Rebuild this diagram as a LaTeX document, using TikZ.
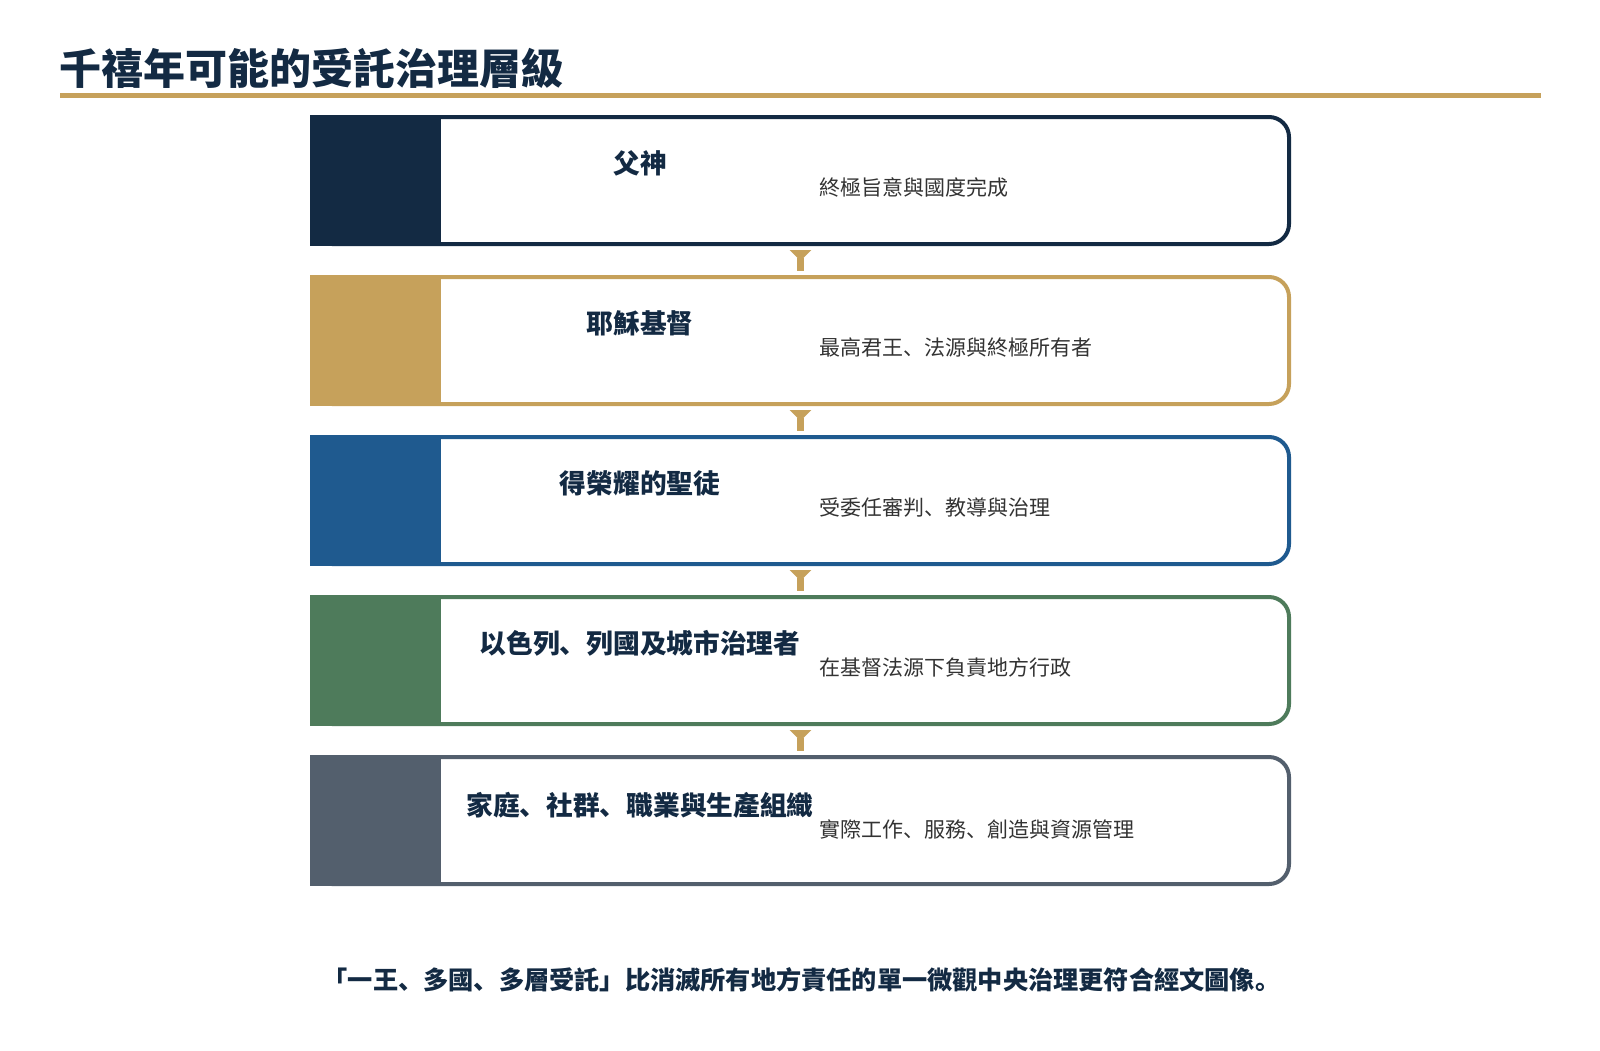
\documentclass[tikz,border=0pt]{standalone}
\usepackage{fontspec}
\setmainfont{Noto Sans CJK SC}
\usepackage{tikz}
\usetikzlibrary{arrows.meta,positioning}

\definecolor{navy}{HTML}{132A43}
\definecolor{gold}{HTML}{C6A15B}
\definecolor{royal}{HTML}{1F5A8F}
\definecolor{moss}{HTML}{4E7B5B}
\definecolor{slate}{HTML}{535F6D}
\definecolor{ink}{HTML}{333333}

\tikzset{
  tierbox/.style={rectangle, rounded corners=20pt, line width=4pt, fill=white,
    minimum width=977pt, minimum height=127pt, inner sep=0pt},
  tiername/.style={font=\fontsize{26.7pt}{30pt}\selectfont\bfseries, text=navy, inner sep=0pt},
  tiernote/.style={font=\fontsize{21pt}{25pt}\selectfont, text=ink, inner sep=0pt, anchor=west},
  flow/.style={draw=gold, line width=7pt, shorten <=4pt, shorten >=4pt,
    {Triangle[reversed,length=11pt,width=21pt]}-}
}

\begin{document}
\begin{tikzpicture}[x=1pt,y=-1pt]
    \useasboundingbox (0,0) rectangle (1600,1050);
    % heading
    \node[anchor=west, inner sep=0pt, text=navy, font=\fontsize{42pt}{46pt}\selectfont\bfseries] (title) at (59,68) {千禧年可能的受託治理層級};
    \fill[gold] (60,93) rectangle (1541,98);

    % tiers
    \node[tierbox, draw=navy] (father) at (800.5,180.5) {};
    \fill[navy] (310,115) rectangle (441,246);
    \node[tiername] (fatherName) at (640,163.5) {父神};
    \node[tiernote] (fatherNote) at (819,187.5) {終極旨意與國度完成};

    \node[tierbox, draw=gold] (christ) at (800.5,340.5) {};
    \fill[gold] (310,275) rectangle (441,406);
    \node[tiername] (christName) at (640,323.5) {耶穌基督};
    \node[tiernote] (christNote) at (819,347.5) {最高君王、法源與終極所有者};

    \node[tierbox, draw=royal] (saints) at (800.5,500.5) {};
    \fill[royal] (310,435) rectangle (441,566);
    \node[tiername] (saintsName) at (640,483.5) {得榮耀的聖徒};
    \node[tiernote] (saintsNote) at (819,507.5) {受委任審判、教導與治理};

    \node[tierbox, draw=moss] (nations) at (800.5,660.5) {};
    \fill[moss] (310,595) rectangle (441,726);
    \node[tiername] (nationsName) at (640,643.5) {以色列、列國及城市治理者};
    \node[tiernote] (nationsNote) at (819,667.5) {在基督法源下負責地方行政};

    \node[tierbox, draw=slate] (homes) at (800.5,820.5) {};
    \fill[slate] (310,755) rectangle (441,886);
    \node[tiername] (homesName) at (640,805) {家庭、社群、職業與生產組織};
    \node[tiernote] (homesNote) at (819,829) {實際工作、服務、創造與資源管理};

    % arrows between tiers
    \draw[flow] (father.south) -- (christ.north);
    \draw[flow] (christ.south) -- (saints.north);
    \draw[flow] (saints.south) -- (nations.north);
    \draw[flow] (nations.south) -- (homes.north);

    % closing remark
    \node[inner sep=0pt, text=navy, font=\fontsize{25.2pt}{29pt}\selectfont\bfseries] (remark) at (801.5,980) {「一王、多國、多層受託」比消滅所有地方責任的單一微觀中央治理更符合經文圖像。};
\end{tikzpicture}
\end{document}
